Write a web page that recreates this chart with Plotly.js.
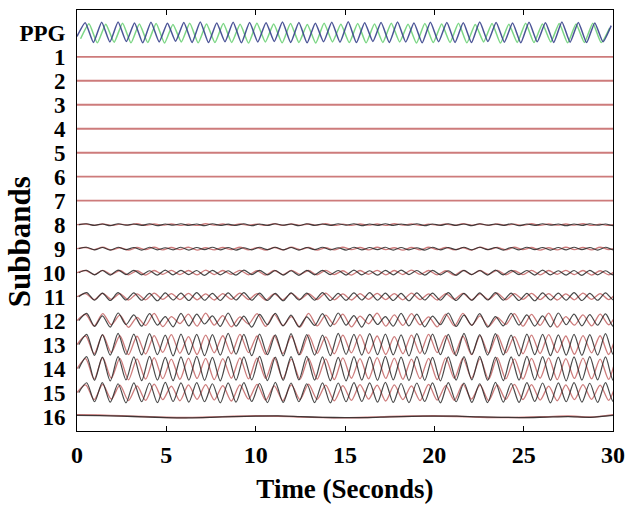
<!DOCTYPE html>
<html>
<head>
<meta charset="utf-8">
<script src="https://cdn.plot.ly/plotly-3.0.1.min.js"></script>
<style>html,body{margin:0;padding:0;background:#fff;}#chart{width:627px;height:509px;}</style>
</head>
<body>
<div id="chart"></div>
<script>
// ---- data (offsets in % of one row spacing, positive = up) ----
const rowLabels = ['PPG','1','2','3','4','5','6','7','8','9','10','11','12','13','14','15','16'];
const timeSpan = [0, 30];
const redStep = 0.48;        // seconds between successive extrema, red (reconstructed) curves
const blackStep = 0.44;      // seconds between successive extrema, black (original) curves
const slowStep = 1.25;       // seconds between samples of subband 16

const ppgBlue = [-15,42,-40,44,-38,45,-36,41,-42,44,-38,40,-35,43,-40,45,-41,41,-37,44,-42,43,-38,42,-36,45,-40,43,-42,40,-37,44,-39,46,-41,42,-36,43,-40,45,-38,41,-42,44,-37,43,-40,42,-41,45,-36,43,-39,41,-42,44,-37,42,-40,45,-39,43,-41,41,-37,30];
const ppgGreen = [-25,38,-42,36,-39,40,-42,37,-40,39,-43,35,-38,40,-42,37,-41,39,-40,36,-43,40,-38,37,-42,39,-40,35,-43,40,-38,36,-41,39,-42,37,-40,40,-38,36,-43,39,-41,37,-40,40,-42,35,-38,39,-43,36,-40,40,-41,37,-38,39,-42,37,-40,40,-41,20];

const sub8Red = [0,3,-2,3,-3,2,-2,4,-3,3,-2,3,-3,2,-3,4,-2,3,-3,3,-2,2,-3,4,-3,3,-2,3,-2,4,-3,2,-3,3,-2,3,-3,4,-2,3,-3,2,-2,3,-3,4,-2,3,-3,3,-2,2,-3,4,-3,3,-2,3,-2,4,-3,2,-3,3,0];
const sub8Black = [0,4,-3,3,-4,4,-2,3,-3,4,-4,3,-2,4,-3,3,-4,4,-3,2,-3,4,-4,3,-3,4,-2,3,-4,4,-3,3,-3,4,-2,4,-4,3,-3,4,-3,3,-2,4,-4,3,-3,4,-3,3,-4,4,-2,3,-3,4,-4,3,-3,4,-2,3,-4,3,-3,4,-2,3,-4,0];
const sub9Red = [0,5,-4,6,-5,4,-6,5,-4,6,-5,5,-4,6,-6,4,-5,5,-4,6,-5,4,-6,5,-5,6,-4,5,-6,4,-5,6,-4,5,-5,6,-4,4,-6,5,-5,6,-4,5,-5,4,-6,6,-4,5,-5,6,-4,5,-6,4,-5,6,-4,5,-5,6,-4,5,0];
const sub9Black = [0,6,-5,5,-6,6,-4,5,-6,6,-5,4,-5,6,-6,5,-4,6,-5,5,-6,4,-5,6,-4,6,-5,5,-6,5,-4,6,-5,4,-6,6,-5,5,-4,6,-6,5,-5,4,-6,6,-5,5,-4,6,-5,6,-4,5,-6,5,-5,6,-4,5,-6,5,-5,6,-4,5,-6,6,-5,0];
const sub10Red = [0,9,-8,10,-7,9,-9,8,-10,9,-7,10,-8,9,-9,11,-8,9,-7,10,-9,8,-10,9,-8,10,-7,9,-9,10,-8,8,-10,9,-7,10,-9,9,-8,11,-7,9,-9,8,-10,10,-8,9,-7,10,-9,8,-8,10,-9,9,-7,10,-8,9,-10,8,-9,10,0];
const sub10Black = [0,10,-9,9,-10,11,-8,10,-9,8,-10,11,-9,10,-8,9,-11,10,-9,8,-10,11,-8,10,-9,9,-10,8,-11,10,-9,10,-8,9,-10,11,-9,8,-10,10,-9,11,-8,9,-10,10,-9,8,-11,10,-8,9,-10,11,-9,10,-8,9,-10,11,-9,8,-10,9,-11,10,-9,8,-10,0];
const sub11Red = [0,13,-12,14,-11,13,-14,12,-13,15,-11,13,-12,14,-13,12,-14,13,-11,15,-12,13,-14,12,-13,14,-11,13,-12,15,-13,12,-14,13,-11,14,-12,13,-13,15,-12,12,-14,13,-11,14,-13,12,-12,15,-13,13,-11,14,-12,13,-14,12,-13,15,-11,13,-12,14,0];
const sub11Black = [0,17,-15,15,-16,17,-14,16,-15,14,-17,16,-14,15,-16,17,-15,14,-16,16,-14,17,-15,15,-16,14,-17,16,-14,15,-15,17,-16,14,-15,16,-14,17,-15,15,-16,14,-17,16,-14,15,-15,17,-16,14,-15,16,-14,17,-15,15,-16,14,-17,16,-14,15,-15,17,-16,14,-15,16,-14,0];
const sub12Red = [0,26,-22,29,-17,23,-28,14,-20,30,-25,17,-12,27,-23,31,-19,21,-26,16,-14,29,-24,26,-20,17,-27,30,-22,23,-16,27,-26,19,-13,31,-23,24,-20,29,-17,16,-26,27,-22,30,-19,20,-24,14,-16,29,-23,26,-20,31,-27,17,-19,24,-22,27,-17,23,0];
const sub12Black = [0,30,-24,20,-27,32,-16,24,-23,29,-19,17,-26,30,-22,27,-14,20,-24,32,-23,19,-27,26,-17,30,-22,23,-26,16,-20,29,-24,32,-19,21,-27,26,-16,17,-23,30,-22,27,-26,19,-17,32,-24,23,-20,29,-27,17,-22,30,-19,24,-23,20,-26,32,-17,27,-22,25,-19,28,-24,0];
const sub13Red = [0,36,-38,41,-33,37,-42,35,-39,38,-32,42,-36,33,-41,40,-34,37,-38,43,-33,36,-40,38,-37,35,-42,41,-36,32,-38,40,-34,42,-37,36,-41,33,-38,40,-36,43,-33,37,-40,35,-42,38,-36,41,-34,33,-38,40,-37,42,-33,36,-40,38,-34,37,-41,36,0];
const sub13Black = [0,43,-45,42,-44,47,-41,44,-43,46,-42,40,-47,44,-41,43,-46,42,-44,47,-40,43,-46,44,-42,41,-47,46,-43,42,-44,40,-46,47,-41,43,-44,46,-42,44,-43,41,-47,46,-40,44,-42,43,-46,47,-41,42,-44,46,-43,40,-47,44,-42,43,-46,41,-44,43,-45,42,-44,46,-41,0];
const sub14Red = [0,42,-44,46,-40,43,-47,41,-44,46,-42,40,-45,44,-41,43,-46,42,-40,45,-43,44,-41,46,-42,40,-45,43,-44,41,-46,45,-40,42,-43,46,-41,44,-45,40,-42,43,-46,45,-41,44,-40,42,-45,46,-43,41,-44,43,-40,45,-46,42,-41,44,-43,40,-45,43,0];
const sub14Black = [0,50,-49,48,-51,50,-47,49,-50,51,-48,47,-50,49,-48,51,-49,47,-51,50,-48,49,-47,51,-50,48,-49,50,-47,51,-48,49,-50,47,-51,50,-48,49,-49,51,-47,48,-50,50,-49,47,-51,49,-48,50,-47,51,-49,48,-50,49,-48,51,-47,50,-49,48,-51,49,-48,50,-47,49,-50,0];
const sub15Red = [0,32,-29,34,-27,31,-33,28,-32,35,-29,27,-34,32,-28,33,-31,29,-35,32,-27,34,-31,28,-33,32,-29,35,-28,31,-34,29,-32,33,-27,31,-35,32,-29,28,-33,34,-31,29,-32,35,-27,31,-33,32,-28,34,-29,33,-31,27,-34,32,-29,33,-28,31,-32,34,0];
const sub15Black = [0,41,-38,42,-40,37,-43,41,-38,40,-42,43,-37,41,-40,42,-38,37,-43,41,-40,42,-37,38,-42,43,-41,40,-38,37,-42,41,-43,40,-38,42,-37,41,-40,43,-41,38,-42,40,-37,41,-43,42,-38,40,-41,37,-42,43,-40,38,-41,42,-37,40,-43,41,-38,42,-40,39,-41,42,-38,0];
const sub16Red = [8,6,3,0,-3,-4,-2,1,3,2,-1,-4,-5,-3,0,2,3,1,-2,-4,-3,-1,2,-2,8];
const sub16Black = [5,4,2,-1,-4,-5,-3,0,2,3,0,-3,-4,-4,-1,1,2,2,-1,-3,-4,-2,0,-3,5];

// ---- styles ----
const RED = 'rgba(196,100,100,0.85)';
const BLACK = 'rgba(40,40,40,0.85)';
const BLUE = 'rgba(55,65,140,0.9)';
const GREEN = 'rgba(110,210,120,0.9)';

function wave(vals, row, color, x0, dx, width, smooth) {
  return {
    type: 'scatter', mode: 'lines', x0: x0, dx: dx,
    y: vals.map(v => row - v / 100),
    line: {color: color, width: width || 1.3, shape: 'spline', smoothing: smooth == null ? 0.8 : smooth},
    hoverinfo: 'skip', showlegend: false
  };
}

const traces = [];
traces.push(wave(ppgGreen, 0, GREEN, 0.2, 0.47, 1.5, 0.5));
traces.push(wave(ppgBlue, 0, BLUE, 0, 0.46, 1.5, 0.5));
for (let r = 1; r <= 7; r++) {
  traces.push({type:'scatter', mode:'lines', x: timeSpan, y: [r, r],
    line:{color: RED, width: 1.8}, hoverinfo:'skip', showlegend:false});
}
const subs = [
  [8, sub8Red, sub8Black], [9, sub9Red, sub9Black], [10, sub10Red, sub10Black],
  [11, sub11Red, sub11Black], [12, sub12Red, sub12Black], [13, sub13Red, sub13Black],
  [14, sub14Red, sub14Black], [15, sub15Red, sub15Black]
];
subs.forEach(([row, red, black]) => {
  traces.push(wave(red, row, RED, 0, redStep, 1.3));
  traces.push(wave(black, row, BLACK, 0.1, blackStep, 1.2));
});
traces.push(wave(sub16Red, 16, RED, 0, slowStep, 1.6));
traces.push(wave(sub16Black, 16, BLACK, 0, slowStep, 1.3));

const FONT = 'Liberation Serif, Times New Roman, serif';
const layout = {
  width: 627, height: 509,
  margin: {l: 77, r: 14, t: 10, b: 78},
  paper_bgcolor: '#fff', plot_bgcolor: '#fff',
  showlegend: false,
  font: {family: FONT, color: '#000'},
  xaxis: {
    range: timeSpan, tickvals: [0,5,10,15,20,25,30],
    ticktext: ['<b>0</b>','<b>5</b>','<b>10</b>','<b>15</b>','<b>20</b>','<b>25</b>','<b>30</b>'],
    ticks: 'inside', ticklen: 5, tickcolor: '#000', mirror: 'ticks',
    showline: true, linecolor: '#000', linewidth: 1, showgrid: false, zeroline: false,
    tickfont: {family: FONT, size: 24, color: '#000'},
    ticklabelstandoff: 2,
    title: {text: '<b>Time (Seconds)</b>', font: {family: FONT, size: 27, color: '#000'}, standoff: 12}
  },
  yaxis: {
    range: [16.6, -0.95], tickvals: rowLabels.map((_, i) => i), ticktext: rowLabels.map(t => '<b>' + t + '</b>'),
    ticks: '', showline: true, linecolor: '#000', linewidth: 1, mirror: true,
    showgrid: false, zeroline: false,
    tickfont: {family: FONT, size: 23, color: '#000'},
    ticklabelstandoff: 6
  },
  annotations: [{
    text: '<b>Subbands</b>', xref: 'paper', yref: 'paper', x: -0.106, y: 0.449,
    xanchor: 'center', yanchor: 'middle', textangle: -90, showarrow: false,
    font: {family: FONT, size: 31, color: '#000'}
  }]
};
Plotly.newPlot('chart', traces, layout, {staticPlot: true, displayModeBar: false});
</script>
</body>
</html>
